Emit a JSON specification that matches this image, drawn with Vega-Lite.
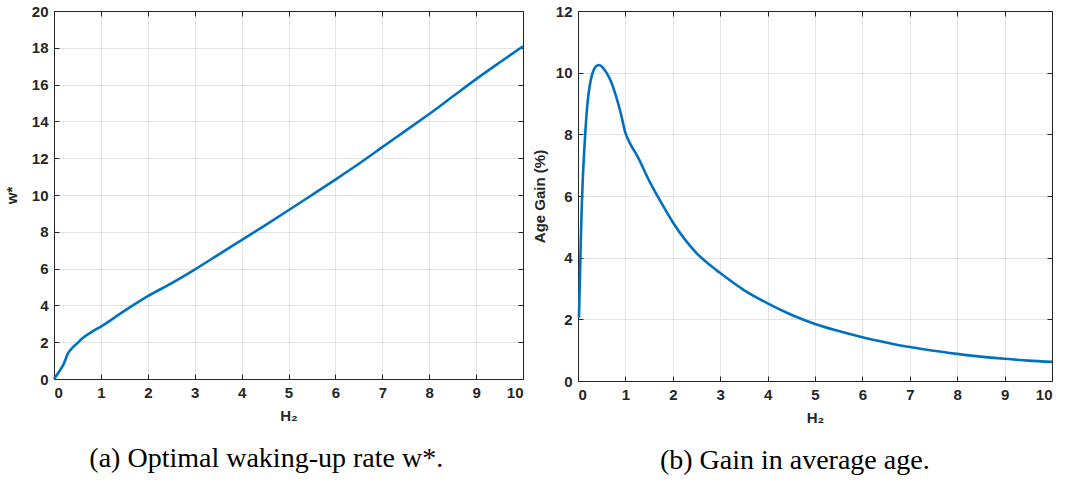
{
  "$schema": "https://vega.github.io/schema/vega-lite/v6.json",
  "padding": {"left": 3, "top": 3, "right": 5, "bottom": 5},
  "bounds": "flush",
  "spacing": 55,
  "background": "white",
  "datasets": {
    "wopt": [
      {"h": 0, "w": 0},
      {"h": 0.1, "w": 0.37},
      {"h": 0.2, "w": 0.78},
      {"h": 0.3, "w": 1.4},
      {"h": 0.4, "w": 1.72},
      {"h": 0.5, "w": 1.95},
      {"h": 0.6, "w": 2.2},
      {"h": 0.8, "w": 2.55},
      {"h": 1.0, "w": 2.85},
      {"h": 1.5, "w": 3.7},
      {"h": 2.0, "w": 4.5},
      {"h": 2.5, "w": 5.2},
      {"h": 3.0, "w": 5.95},
      {"h": 3.5, "w": 6.75},
      {"h": 4.0, "w": 7.55},
      {"h": 4.5, "w": 8.35},
      {"h": 5.0, "w": 9.17},
      {"h": 5.5, "w": 10.0},
      {"h": 6.0, "w": 10.84},
      {"h": 6.5, "w": 11.7},
      {"h": 7.0, "w": 12.6},
      {"h": 7.5, "w": 13.5},
      {"h": 8.0, "w": 14.4},
      {"h": 8.5, "w": 15.35},
      {"h": 9.0, "w": 16.3},
      {"h": 9.5, "w": 17.2},
      {"h": 10.0, "w": 18.08}
    ],
    "gain": [
      {"h": 0.02, "g": 2.05},
      {"h": 0.04, "g": 3.3},
      {"h": 0.06, "g": 4.6},
      {"h": 0.08, "g": 5.7},
      {"h": 0.1, "g": 6.5},
      {"h": 0.15, "g": 7.95},
      {"h": 0.2, "g": 9.0},
      {"h": 0.25, "g": 9.6},
      {"h": 0.3, "g": 9.95},
      {"h": 0.35, "g": 10.15},
      {"h": 0.4, "g": 10.23},
      {"h": 0.45, "g": 10.25},
      {"h": 0.5, "g": 10.2},
      {"h": 0.6, "g": 10.0},
      {"h": 0.7, "g": 9.7},
      {"h": 0.8, "g": 9.25},
      {"h": 0.9, "g": 8.7},
      {"h": 1.0, "g": 8.05},
      {"h": 1.1, "g": 7.7},
      {"h": 1.25, "g": 7.3},
      {"h": 1.5, "g": 6.5},
      {"h": 1.75, "g": 5.8},
      {"h": 2.0, "g": 5.15},
      {"h": 2.25, "g": 4.6},
      {"h": 2.5, "g": 4.15},
      {"h": 2.75, "g": 3.8},
      {"h": 3.0, "g": 3.5},
      {"h": 3.5, "g": 2.95},
      {"h": 4.0, "g": 2.52},
      {"h": 4.5, "g": 2.15},
      {"h": 5.0, "g": 1.85},
      {"h": 5.5, "g": 1.62},
      {"h": 6.0, "g": 1.42},
      {"h": 6.5, "g": 1.25},
      {"h": 7.0, "g": 1.1},
      {"h": 7.5, "g": 0.98},
      {"h": 8.0, "g": 0.88},
      {"h": 8.5, "g": 0.79},
      {"h": 9.0, "g": 0.72},
      {"h": 9.5, "g": 0.66},
      {"h": 10.0, "g": 0.62}
    ]
  },
  "config": {
    "view": {"stroke": "#262626", "strokeWidth": 1},
    "axis": {
      "labelFont": "Liberation Sans",
      "labelFontWeight": "bold",
      "labelFontSize": 15,
      "labelColor": "#262626",
      "titleFont": "Liberation Sans",
      "titleFontWeight": "bold",
      "titleFontSize": 15,
      "titleColor": "#262626",
      "domainColor": "#262626",
      "tickColor": "#262626",
      "tickSize": -5,
      "gridColor": "#e3e3e3",
      "gridWidth": 1,
      "labelPadding": 11
    },
    "title": {
      "font": "Liberation Serif",
      "fontSize": 28,
      "fontWeight": "normal",
      "color": "#000000"
    }
  },
  "hconcat": [
    {
      "width": 469,
      "height": 368,
      "title": {"text": "(a) Optimal waking-up rate w*.", "orient": "bottom", "anchor": "middle", "frame": "bounds", "offset": 22},
      "data": {"name": "wopt"},
      "layer": [
        {
          "mark": {"type": "line", "color": "#0072BD", "strokeWidth": 2.6, "interpolate": "monotone"},
          "encoding": {
            "x": {"field": "h", "type": "quantitative", "scale": {"domain": [0, 10], "nice": false},
                  "axis": {"orient": "bottom", "title": "H₂", "values": [0,1,2,3,4,5,6,7,8,9,10], "titlePadding": 8}},
            "y": {"field": "w", "type": "quantitative", "scale": {"domain": [0, 20], "nice": false},
                  "axis": {"orient": "left", "title": "w*", "values": [0,2,4,6,8,10,12,14,16,18,20], "titlePadding": 12}}
          }
        },
        {
          "mark": {"type": "line", "opacity": 0},
          "encoding": {
            "x": {"field": "h", "type": "quantitative",
                  "axis": {"orient": "top", "title": null, "labels": false, "grid": false, "values": [0,1,2,3,4,5,6,7,8,9,10]}},
            "y": {"field": "w", "type": "quantitative",
                  "axis": {"orient": "right", "title": null, "labels": false, "grid": false, "values": [0,2,4,6,8,10,12,14,16,18,20]}}
          }
        }
      ],
      "resolve": {"axis": {"x": "independent", "y": "independent"}}
    },
    {
      "width": 474,
      "height": 370,
      "title": {"text": "(b) Gain in average age.", "orient": "bottom", "anchor": "middle", "frame": "bounds", "offset": 22},
      "data": {"name": "gain"},
      "layer": [
        {
          "mark": {"type": "line", "color": "#0072BD", "strokeWidth": 2.6, "interpolate": "monotone"},
          "encoding": {
            "x": {"field": "h", "type": "quantitative", "scale": {"domain": [0, 10], "nice": false},
                  "axis": {"orient": "bottom", "title": "H₂", "values": [0,1,2,3,4,5,6,7,8,9,10], "titlePadding": 8}},
            "y": {"field": "g", "type": "quantitative", "scale": {"domain": [0, 12], "nice": false},
                  "axis": {"orient": "left", "title": "Age Gain (%)", "values": [0,2,4,6,8,10,12], "titlePadding": 8}}
          }
        },
        {
          "mark": {"type": "line", "opacity": 0},
          "encoding": {
            "x": {"field": "h", "type": "quantitative",
                  "axis": {"orient": "top", "title": null, "labels": false, "grid": false, "values": [0,1,2,3,4,5,6,7,8,9,10]}},
            "y": {"field": "g", "type": "quantitative",
                  "axis": {"orient": "right", "title": null, "labels": false, "grid": false, "values": [0,2,4,6,8,10,12]}}
          }
        }
      ],
      "resolve": {"axis": {"x": "independent", "y": "independent"}}
    }
  ]
}
